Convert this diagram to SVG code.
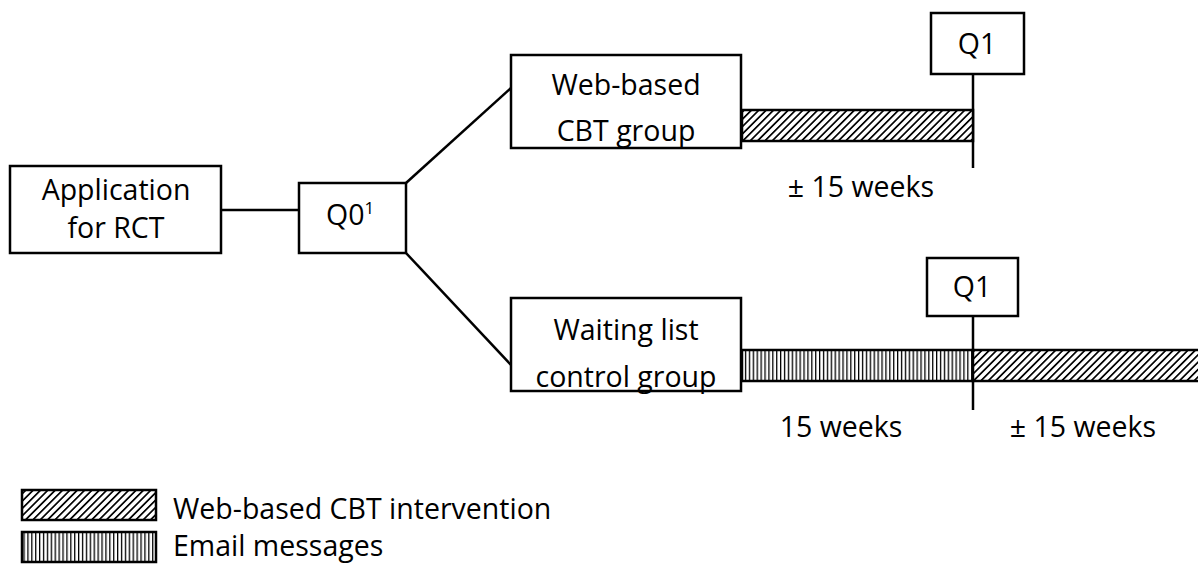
<svg xmlns="http://www.w3.org/2000/svg" width="1198" height="565" viewBox="0 0 1198 565">
<style>
.box{fill:#fff;stroke:#000;stroke-width:2.5}
.ln{stroke:#000;stroke-width:2.5;fill:none}
.bar{stroke:#000;stroke-width:2.5}
text{font-family:"Open Sans","Liberation Sans",sans-serif;font-size:28.5px;fill:#000}
.c{text-anchor:middle}
</style>
<defs>
<pattern id="diag" width="5.2" height="5.2" patternUnits="userSpaceOnUse" patternTransform="rotate(45)">
<rect width="5.2" height="5.2" fill="#fff"/>
<rect x="0" y="0" width="1.7" height="5.2" fill="#000"/>
</pattern>
<pattern id="vert" width="3.9" height="4" patternUnits="userSpaceOnUse">
<rect width="3.9" height="4" fill="#fff"/>
<rect x="0" y="0" width="1.3" height="4" fill="#000"/>
</pattern>
</defs>
<g id="connectors">
<line class="ln" x1="221" y1="210" x2="299" y2="210"/>
<line class="ln" x1="406" y1="183" x2="511" y2="88"/>
<line class="ln" x1="406" y1="253" x2="511" y2="365"/>
<line class="ln" x1="973" y1="74" x2="973" y2="168"/>
<line class="ln" x1="973" y1="316" x2="973" y2="410"/>
</g>
<g id="app"><rect class="box" x="10" y="166" width="211" height="87"/>
<text class="c" x="116" y="200">Application</text><text class="c" x="116" y="238">for RCT</text></g>
<g id="q0"><rect class="box" x="299" y="183" width="107" height="70"/>
<text x="326" y="225">Q0<tspan font-size="17" dy="-11">1</tspan></text></g>
<g id="web"><rect class="box" x="511" y="55" width="230" height="93"/>
<text class="c" x="626" y="95">Web-based</text><text class="c" x="626" y="141">CBT group</text></g>
<g id="wait"><rect class="box" x="511" y="298" width="230" height="93"/>
<text class="c" x="626" y="340">Waiting list</text><text class="c" x="626" y="387">control group</text></g>
<g id="q1top"><rect class="box" x="931" y="13" width="93" height="61"/>
<text class="c" x="977" y="54">Q1</text></g>
<g id="q1bot"><rect class="box" x="927" y="258" width="91" height="58"/>
<text class="c" x="972" y="297">Q1</text></g>
<g id="bars">
<rect class="bar" x="742" y="110" width="231" height="31" fill="url(#diag)"/>
<rect class="bar" x="742" y="350" width="231" height="31" fill="url(#vert)"/>
<rect class="bar" x="973" y="350" width="230" height="31" fill="url(#diag)"/>
</g>
<g id="labels">
<text class="c" x="861" y="197">± 15 weeks</text>
<text class="c" x="841" y="437">15 weeks</text>
<text class="c" x="1083" y="437">± 15 weeks</text>
</g>
<g id="legend">
<rect class="bar" x="22" y="490" width="134" height="30" fill="url(#diag)"/>
<rect class="bar" x="22" y="532" width="134" height="30" fill="url(#vert)"/>
<text x="173" y="519">Web-based CBT intervention</text>
<text x="173" y="556">Email messages</text>
</g>
</svg>
